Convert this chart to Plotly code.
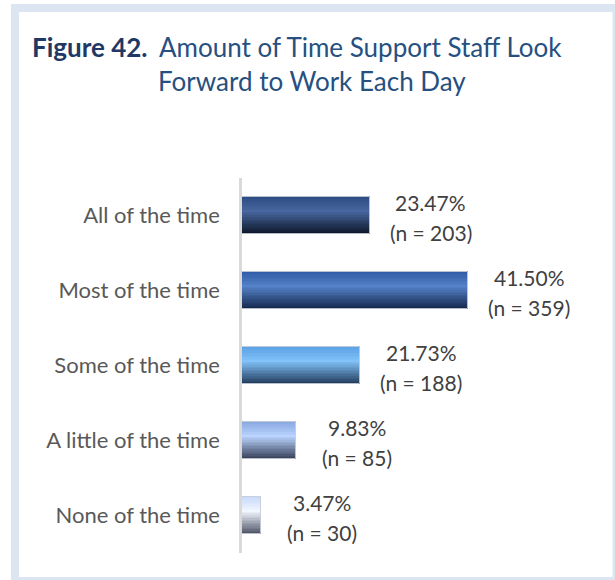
import plotly.graph_objects as go

# ---------------- data ----------------
categories = ["All of the time", "Most of the time", "Some of the time",
              "A little of the time", "None of the time"]
percents = [23.47, 41.50, 21.73, 9.83, 3.47]
counts = [203, 359, 188, 85, 30]

# gradient colour stops per bar: (top, highlight, bottom)
grad_top = ["#2b4a80", "#2f5aa5", "#5aa0e4", "#86a6de", "#c5d9fb"]
grad_hi = ["#4867a0", "#5582c8", "#82c2f8", "#bad4ff", "#f2f7ff"]
grad_bot = ["#0b1526", "#13264a", "#20395a", "#353e55", "#4a5062"]

title_bold = "Figure 42."
title_line1 = "Amount of Time Support Staff Look"
title_line2 = "Forward to Work Each Day"

# ---------------- layout geometry ----------------
W, H = 615, 580
ML, MR, MT, MB = 242, 46, 178, 27
PW, PH = W - ML - MR, H - MT - MB


def px(x):
    return (x - ML) / PW


def py(y):
    return (H - MB - y) / PH


def hex2rgb(h):
    h = h.lstrip("#")
    return tuple(int(h[i:i + 2], 16) for i in (0, 2, 4))


def mix(c1, c2, t):
    a, b = hex2rgb(c1), hex2rgb(c2)
    return "rgb(%d,%d,%d)" % tuple(round(a[i] + (b[i] - a[i]) * t) for i in range(3))


def grad_color(i, f):
    stops = [(0.0, grad_top[i]), (0.4, grad_hi[i]), (1.0, grad_bot[i])]
    for (f0, c0), (f1, c1) in zip(stops[:-1], stops[1:]):
        if f <= f1:
            return mix(c0, c1, (f - f0) / (f1 - f0))
    return stops[-1][1]


BAR_W = 0.5
N = 24
strip = BAR_W / N

fig = go.Figure()
for k in range(N):
    f = (k + 0.5) / N
    fig.add_trace(go.Bar(
        x=percents, y=categories, orientation="h",
        width=strip * 1.08, offset=-BAR_W / 2 + k * strip,
        marker=dict(color=[grad_color(i, f) for i in range(len(categories))],
                    line=dict(width=0)),
        hoverinfo="skip", showlegend=False,
    ))
# thin outline
fig.add_trace(go.Bar(
    x=percents, y=categories, orientation="h", width=BAR_W,
    marker=dict(color="rgba(0,0,0,0)", line=dict(color="rgba(200,206,216,0.9)", width=1)),
    hoverinfo="skip", showlegend=False,
))

LBL_FONT = dict(family="Lato", size=21, color="#404040")
annotations = []
for cat, p, n in zip(categories, percents, counts):
    annotations.append(dict(x=p, y=cat, xref="x", yref="y", text=f"{p:.2f}%",
                            showarrow=False, xanchor="center", yanchor="middle",
                            xshift=61, yshift=13, font=LBL_FONT))
    annotations.append(dict(x=p, y=cat, xref="x", yref="y", text=f"(n = {n})",
                            showarrow=False, xanchor="center", yanchor="middle",
                            xshift=61, yshift=-17, font=LBL_FONT))

annotations.append(dict(x=px(30), y=py(47), xref="paper", yref="paper",
                        text=f"<b>{title_bold}</b>", showarrow=False,
                        xanchor="left", yanchor="middle",
                        font=dict(family="Lato", size=26, color="#1f3864")))
annotations.append(dict(x=px(157), y=py(47), xref="paper", yref="paper",
                        text=title_line1, showarrow=False,
                        xanchor="left", yanchor="middle",
                        font=dict(family="Lato", size=26, color="#26507f")))
annotations.append(dict(x=px(156), y=py(81), xref="paper", yref="paper",
                        text=title_line2, showarrow=False,
                        xanchor="left", yanchor="middle",
                        font=dict(family="Lato", size=26, color="#26507f")))

# light frame: left/top 8px bands, right/bottom thin bands at the edges
frame = dict(color="#dce6f2", width=8)
shapes = [
    dict(type="line", xref="paper", yref="paper", x0=px(15), x1=px(15),
         y0=py(4), y1=py(580), line=frame, layer="below"),
    dict(type="line", xref="paper", yref="paper", x0=px(11), x1=px(615),
         y0=py(8), y1=py(8), line=frame, layer="below"),
    dict(type="line", xref="paper", yref="paper", x0=px(614), x1=px(614),
         y0=py(4), y1=py(580), line=dict(color="#dce6f2", width=3), layer="below"),
    dict(type="line", xref="paper", yref="paper", x0=px(11), x1=px(615),
         y0=py(578.5), y1=py(578.5), line=dict(color="#dce6f2", width=3), layer="below"),
]

fig.update_layout(
    width=W, height=H, autosize=False,
    margin=dict(l=ML, r=MR, t=MT, b=MB, pad=0),
    paper_bgcolor="white", plot_bgcolor="white",
    barmode="overlay", bargap=0,
    showlegend=False,
    annotations=annotations, shapes=shapes,
    xaxis=dict(range=[0, 60], visible=False, fixedrange=True),
    yaxis=dict(type="category", autorange="reversed",
               showline=True, linecolor="#d9d9d9", linewidth=2.5,
               showgrid=False, zeroline=False,
               ticks="outside", ticklen=15, tickcolor="rgba(0,0,0,0)",
               tickfont=dict(family="Lato", size=22, color="#595959"),
               fixedrange=True),
    font=dict(family="Lato"),
)

fig.write_html("out.html", config={"displayModeBar": False},
               post_script="document.body.style.margin='0';document.body.style.overflow='hidden';")
